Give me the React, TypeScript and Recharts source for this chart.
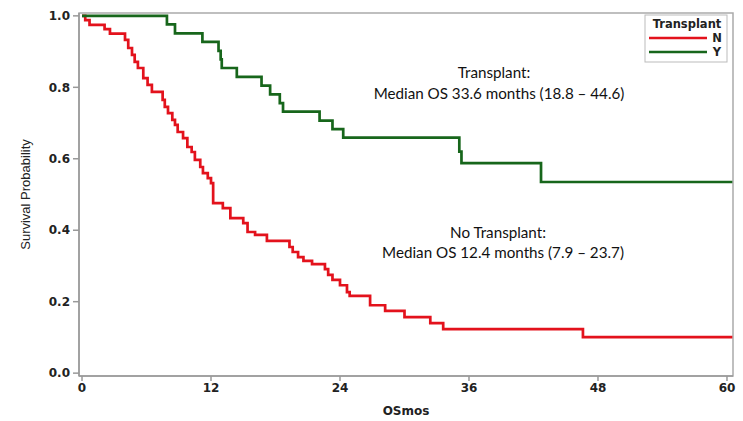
import { Line, LineChart, ReferenceArea, XAxis, YAxis } from "recharts";

// No transplant (N) – Kaplan-Meier steps
const noTxTimes = [
  0, 0.3, 0.7, 2.1, 2.6, 4.0, 4.3, 4.65, 4.9, 5.2, 5.7, 6.1, 6.5, 7.5, 7.7, 8.0, 8.4, 8.65, 8.9,
  9.4, 9.8, 10.2, 10.5, 11.0, 11.25, 11.7, 12.0, 12.2, 13.1, 13.8, 15.0, 15.4, 16.1, 17.2, 19.3,
  19.6, 20.1, 20.6, 21.4, 22.6, 22.9, 23.3, 24.0, 24.65, 24.9, 26.8, 28.2, 30.0, 32.4, 33.6, 46.6,
  60.5,
];
const noTxSurv = [
  1.0, 0.988, 0.975, 0.963, 0.95, 0.933, 0.91, 0.891, 0.871, 0.854, 0.826, 0.807, 0.787, 0.765,
  0.745, 0.728, 0.709, 0.695, 0.675, 0.658, 0.633, 0.619, 0.597, 0.577, 0.56, 0.546, 0.532, 0.476,
  0.462, 0.434, 0.42, 0.395, 0.387, 0.37, 0.353, 0.339, 0.325, 0.314, 0.305, 0.291, 0.275, 0.261,
  0.246, 0.227, 0.216, 0.19, 0.174, 0.157, 0.14, 0.123, 0.101, 0.101,
];

// Transplant (Y)
const txTimes = [
  0, 7.9, 8.65, 11.2, 12.7, 12.9, 13.0, 14.4, 16.7, 17.5, 18.4, 18.7, 22.1, 23.3, 24.3, 35.1, 35.3,
  42.7, 60.5,
];
const txSurv = [
  1.0, 0.976, 0.951, 0.927, 0.902, 0.878, 0.854, 0.829, 0.805, 0.78, 0.756, 0.732, 0.707, 0.683,
  0.659, 0.62, 0.588, 0.535, 0.535,
];

const xTicks = [0, 12, 24, 36, 48, 60];
const yTicks = [0, 0.2, 0.4, 0.6, 0.8, 1.0];
const xDomain = [-0.28, 60.56];
const yDomain = [-0.008, 1.008];

const RED = "#e3121c";
const GREEN = "#17661b";

const noTxData = noTxTimes.map((t, i) => ({ t, s: noTxSurv[i] }));
const txData = txTimes.map((t, i) => ({ t, s: txSurv[i] }));

const tickStyle = { fontFamily: "DejaVu Sans", fontWeight: 700, fontSize: 12, fill: "#222" };
const noteFont = { fontFamily: "Lato", fontSize: 15.2, fill: "#111" };
const legendFont = { fontFamily: "DejaVu Sans", fontWeight: 700, fontSize: 11.5, fill: "#222" };

export default function App() {
  return (
    <div style={{ position: "absolute", left: 0, top: 0, width: 743, height: 421, background: "#fff" }}>
      <LineChart width={743} height={421} margin={{ top: 13, right: 10, bottom: 0, left: 0 }}>
        <XAxis
          dataKey="t"
          type="number"
          domain={xDomain}
          allowDataOverflow
          ticks={xTicks}
          height={45}
          stroke="#999"
          strokeWidth={1.5}
          tickSize={5}
          tick={tickStyle}
          label={{
            value: "OSmos",
            position: "insideBottom",
            offset: 6,
            style: { fontFamily: "DejaVu Sans", fontWeight: 700, fontSize: 12, fill: "#222" },
          }}
        />
        <YAxis
          type="number"
          domain={yDomain}
          allowDataOverflow
          ticks={yTicks}
          width={79}
          stroke="#999"
          strokeWidth={1.5}
          tickSize={6}
          tickMargin={3}
          tick={tickStyle}
          tickFormatter={(v: number) => v.toFixed(1)}
          label={{
            value: "Survival Probability",
            angle: -90,
            position: "insideLeft",
            offset: 25,
            style: { fontFamily: "Liberation Sans", fontSize: 13, fill: "#222", textAnchor: "middle" },
          }}
        />
        <ReferenceArea
          x1={xDomain[0]}
          x2={xDomain[1]}
          y1={yDomain[0]}
          y2={yDomain[1]}
          fill="none"
          stroke="#aaa"
          strokeWidth={1.5}
          ifOverflow="visible"
        />
        <Line
          data={noTxData}
          dataKey="s"
          type="stepAfter"
          stroke={RED}
          strokeWidth={2.7}
          dot={false}
          isAnimationActive={false}
        />
        <Line
          data={txData}
          dataKey="s"
          type="stepAfter"
          stroke={GREEN}
          strokeWidth={2.7}
          dot={false}
          isAnimationActive={false}
        />
      </LineChart>

      <svg
        width={743}
        height={421}
        style={{ position: "absolute", left: 0, top: 0, pointerEvents: "none" }}
      >
        <text x={494} y={72} textAnchor="middle" dominantBaseline="central" {...noteFont}>
          Transplant:
        </text>
        <text x={499} y={93} textAnchor="middle" dominantBaseline="central" {...noteFont}>
          Median OS 33.6 months (18.8 – 44.6)
        </text>
        <text x={498} y={232} textAnchor="middle" dominantBaseline="central" {...noteFont}>
          No Transplant:
        </text>
        <text x={503} y={252} textAnchor="middle" dominantBaseline="central" {...noteFont}>
          Median OS 12.4 months (7.9 – 23.7)
        </text>

        <rect x={645} y={15} width={82} height={47} fill="#fff" stroke="#bbb" strokeWidth={1} />
        <text x={687} y={24} textAnchor="middle" dominantBaseline="central" {...legendFont}>
          Transplant
        </text>
        <line x1={649} x2={707} y1={38} y2={38} stroke={RED} strokeWidth={2.7} />
        <text x={717} y={38} textAnchor="middle" dominantBaseline="central" {...legendFont}>
          N
        </text>
        <line x1={649} x2={707} y1={52} y2={52} stroke={GREEN} strokeWidth={2.7} />
        <text x={717} y={52} textAnchor="middle" dominantBaseline="central" {...legendFont}>
          Y
        </text>
      </svg>
    </div>
  );
}
